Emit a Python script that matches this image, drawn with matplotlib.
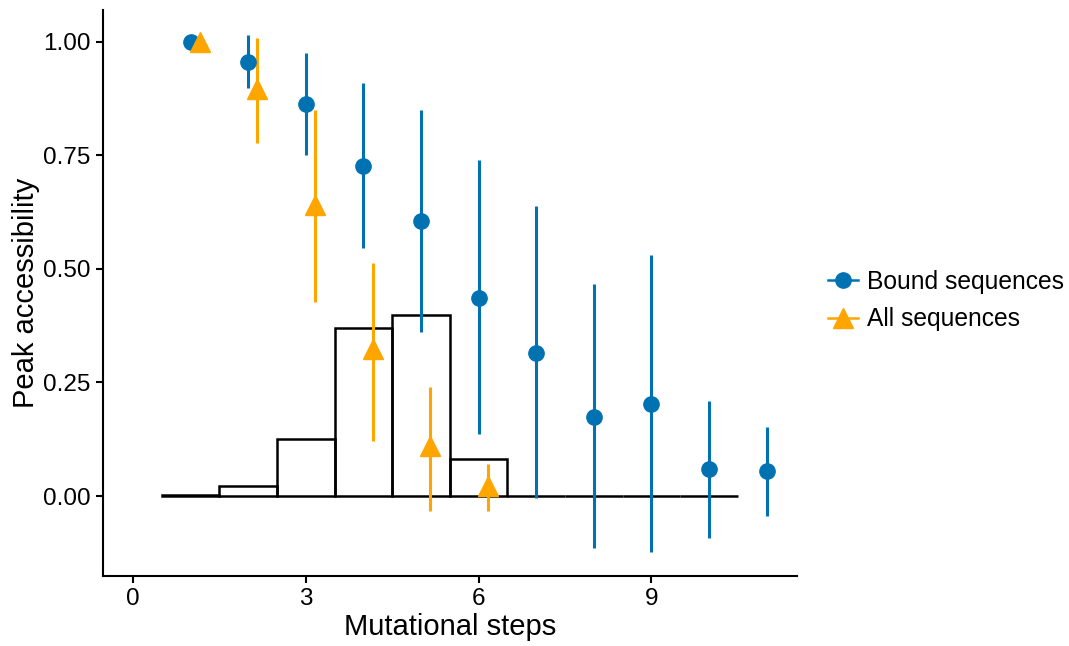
import matplotlib
matplotlib.use("Agg")
import matplotlib.pyplot as plt
import numpy as np

plt.rcParams['font.family'] = ['Liberation Sans', 'DejaVu Sans']

# histogram of mutational steps (fraction of sequences)
hist_steps = [1, 2, 3, 4, 5, 6, 7, 8, 9, 10]
hist_frac = [0.003, 0.022, 0.125, 0.370, 0.399, 0.081, 0.0, 0.0, 0.0, 0.0]

# bound sequences: mean peak accessibility with interval
bound_steps = [1, 2, 3, 4, 5, 6, 7, 8, 9, 10, 11]
bound_mean = [1.000, 0.956, 0.863, 0.727, 0.606, 0.436, 0.315, 0.174, 0.203, 0.059, 0.055]
bound_low = [1.000, 0.899, 0.751, 0.546, 0.361, 0.137, -0.004, -0.115, -0.123, -0.093, -0.044]
bound_high = [1.000, 1.015, 0.976, 0.910, 0.850, 0.740, 0.639, 0.467, 0.531, 0.209, 0.152]

# all sequences
all_steps = [1, 2, 3, 4, 5, 6]
all_mean = [1.000, 0.896, 0.641, 0.324, 0.110, 0.022]
all_low = [1.000, 0.778, 0.427, 0.121, -0.033, -0.033]
all_high = [1.000, 1.009, 0.850, 0.513, 0.240, 0.070]

blue = '#0072B2'
orange = '#FFA500'
dodge = 0.16

fig = plt.figure(figsize=(10.69, 6.46), dpi=100)
ax = fig.add_axes([0.0964, 0.1084, 0.6492, 0.8761])

ax.bar(hist_steps, hist_frac, width=1.0, facecolor='none', edgecolor='black',
       linewidth=1.8, zorder=1)

bx = np.array(bound_steps, dtype=float)
bm = np.array(bound_mean)
ax.vlines(bx, bound_low, bound_high, color=blue, linewidth=2.2, zorder=2)
ax.plot(bx, bm, 'o', color=blue, markersize=11, zorder=3,
        label='Bound sequences')

axx = np.array(all_steps, dtype=float) + dodge
am = np.array(all_mean)
ax.vlines(axx, all_low, all_high, color=orange, linewidth=2.2, zorder=2)
ax.plot(axx, am, '^', color=orange, markersize=14, zorder=4,
        label='All sequences')

ax.set_xlim(-0.52, 11.53)
ax.set_ylim(-0.176, 1.07)
ax.set_xticks([0, 3, 6, 9])
ax.set_yticks([0, 0.25, 0.5, 0.75, 1.0])
ax.set_yticklabels(['0.00', '0.25', '0.50', '0.75', '1.00'])
ax.tick_params(labelsize=17.5, length=5, width=1.5, colors='black', pad=4)
for side in ['top', 'right']:
    ax.spines[side].set_visible(False)
for side in ['left', 'bottom']:
    ax.spines[side].set_linewidth(1.5)

ax.set_xlabel('Mutational steps', fontsize=21, labelpad=2)
ax.set_ylabel('Peak accessibility', fontsize=21, labelpad=2)

h1 = plt.Line2D([], [], color=blue, marker='o', markersize=11, linewidth=1.8)
h2 = plt.Line2D([], [], color=orange, marker='^', markersize=14, linewidth=1.8)
fig.legend([h1, h2], ['Bound sequences', 'All sequences'], loc='center left',
           bbox_to_anchor=(0.7746, 0.535), frameon=False, fontsize=17.7,
           handlelength=1.22, handletextpad=0.35, labelspacing=0.55,
           borderpad=0, borderaxespad=0)

fig.savefig('out.png', dpi=100)
